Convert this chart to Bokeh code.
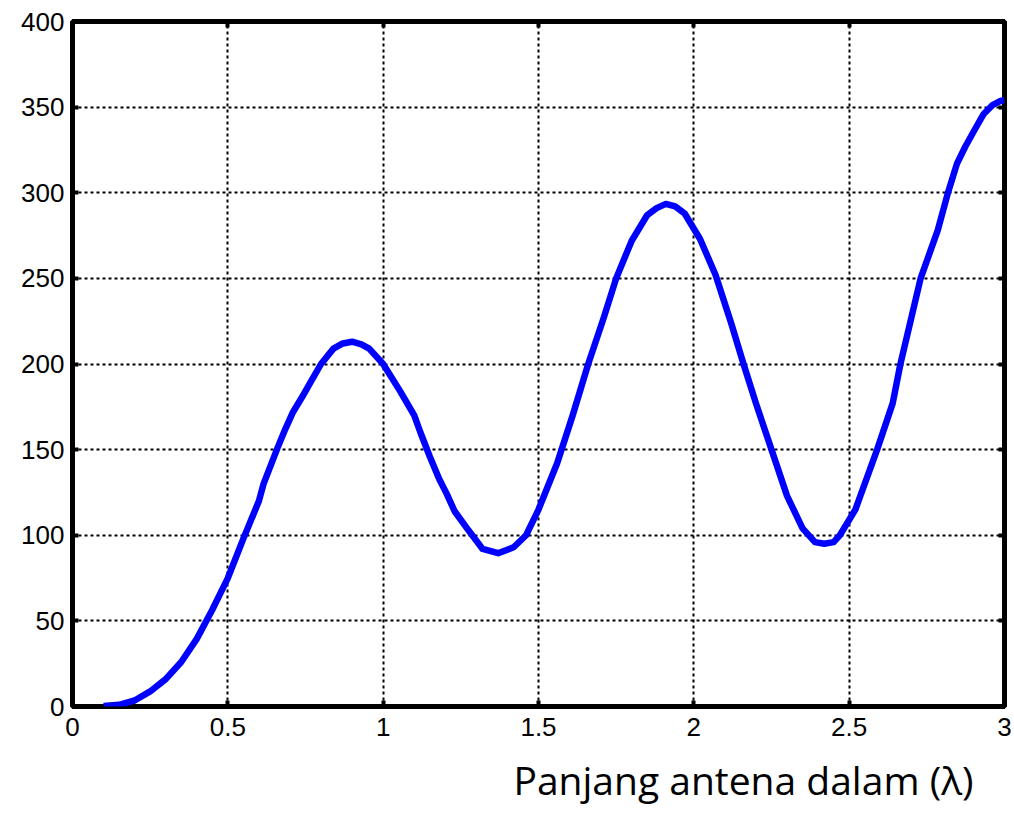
from bokeh.plotting import figure
from bokeh.models import Range1d, FixedTicker, LinearAxis, Title
from bokeh.embed import file_html
from bokeh.resources import INLINE

# Antenna length (in wavelengths) and the corresponding resistance curve
length_lambda = [0.10, 0.15, 0.20, 0.25, 0.30, 0.35, 0.40, 0.45, 0.50, 0.55,
                 0.60, 0.615, 0.66, 0.685, 0.71, 0.74, 0.765, 0.80, 0.84, 0.87,
                 0.90, 0.93, 0.955, 1.00, 1.055, 1.10, 1.12, 1.15, 1.18, 1.205,
                 1.23, 1.27, 1.32, 1.37, 1.42, 1.46, 1.50, 1.56, 1.61, 1.66,
                 1.71, 1.75, 1.80, 1.85, 1.88, 1.91, 1.94, 1.97, 2.02, 2.07,
                 2.12, 2.16, 2.20, 2.25, 2.30, 2.35, 2.39, 2.42, 2.45, 2.47,
                 2.52, 2.59, 2.64, 2.665, 2.73, 2.785, 2.818, 2.847, 2.874, 2.903,
                 2.933, 2.96, 2.987, 3.00]
resistance = [0.3, 1, 3.5, 8.8, 16, 26, 39.5, 56.5, 75, 98,
              120, 130, 151, 162, 172, 181, 189, 200, 209, 212,
              213, 211.5, 209, 200, 184, 170, 160, 146, 133, 124,
              114, 104, 92, 89.5, 93, 100, 115, 142, 170, 200,
              227, 250, 272, 287, 291, 293.5, 292, 288, 273, 252,
              224, 200, 177, 150, 123, 104, 96, 95, 96, 100,
              115, 150, 177, 200, 250, 278, 300, 317, 327, 336.5,
              346, 351, 353.6, 354]

x_ticks = [0, 0.5, 1, 1.5, 2, 2.5, 3]
x_tick_labels = ["0", "0.5", "1", "1.5", "2", "2.5", "3"]
y_ticks = [0, 50, 100, 150, 200, 250, 300, 350, 400]
y_tick_labels = ["0", "50", "100", "150", "200", "250", "300", "350", "400"]

x_title = "Panjang antena dalam (\u03bb)"

p = figure(width=1014, height=817, output_backend="svg", toolbar_location=None,
           x_range=Range1d(0, 3), y_range=Range1d(0, 400),
           min_border_left=72, min_border_right=10,
           min_border_top=21, min_border_bottom=111,
           background_fill_color="white", border_fill_color="white")

p.outline_line_color = "black"
p.outline_line_width = 5
p.outline_line_alpha = 1.0


def style_axis(axis, ticks, labels, show_labels):
    axis.ticker = FixedTicker(ticks=ticks)
    axis.axis_line_color = None
    axis.major_tick_in = 6
    axis.major_tick_out = 0
    axis.major_tick_line_width = 4
    axis.major_tick_line_color = "black"
    axis.minor_tick_line_color = None
    axis.major_label_text_font = "Liberation Sans"
    axis.major_label_text_color = "black"
    axis.major_label_text_font_size = "26px"
    if show_labels:
        axis.major_label_overrides = {t: l for t, l in zip(ticks, labels)}
        axis.major_label_standoff = 8
    else:
        # inward ticks only on the mirrored sides of the box
        axis.major_label_overrides = {t: "" for t in ticks}
        axis.major_label_standoff = 0


style_axis(p.xaxis[0], x_ticks, x_tick_labels, True)
style_axis(p.yaxis[0], y_ticks, y_tick_labels, True)
p.xaxis[0].major_label_standoff = 11

top_axis = LinearAxis()
right_axis = LinearAxis()
style_axis(top_axis, x_ticks, x_tick_labels, False)
style_axis(right_axis, y_ticks, y_tick_labels, False)
p.add_layout(top_axis, "above")
p.add_layout(right_axis, "right")

for g in (p.xgrid[0], p.ygrid[0]):
    g.grid_line_color = "black"
    g.grid_line_width = 2
    g.grid_line_dash = "3 3"
    g.grid_line_alpha = 1.0
p.xgrid[0].ticker = FixedTicker(ticks=x_ticks)
p.ygrid[0].ticker = FixedTicker(ticks=y_ticks)

p.line(length_lambda, resistance, line_color="#0000ff", line_width=6.5,
       line_join="round")

p.add_layout(Title(text=x_title, align="right", offset=31, standoff=24,
                   text_font="Open Sans", text_font_size="39px",
                   text_font_style="normal", text_color="black"), "below")

open("out.html", "w").write(file_html(p, INLINE))
